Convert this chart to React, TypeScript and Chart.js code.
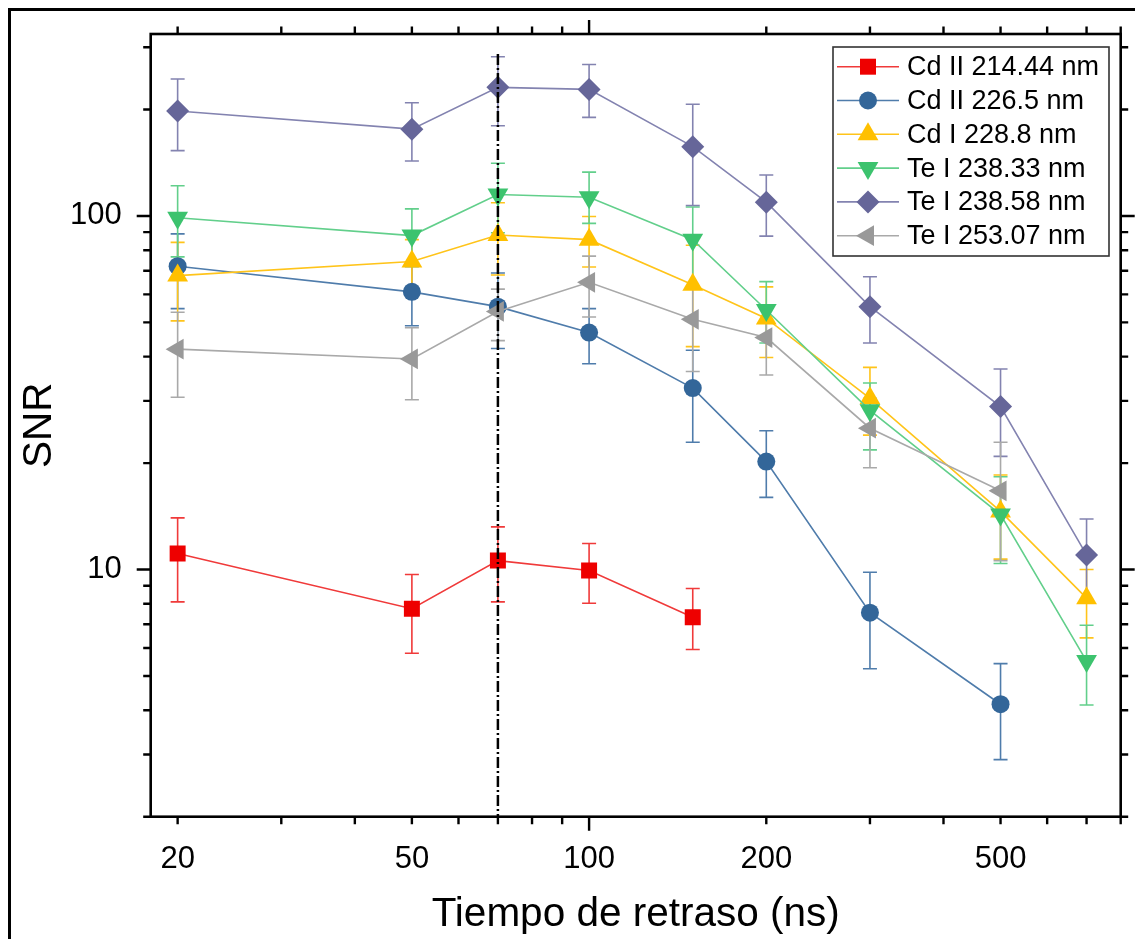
import React, { useEffect, useRef } from 'react';
import { Chart, registerables } from 'chart.js';

Chart.register(...registerables);

const FONT = '"Liberation Sans", Arial, Helvetica, sans-serif';

// Delay times (ns)
const delays = [20, 50, 70, 100, 150, 200, 300, 500, 700];

// Cd II 214.44 nm
const cdII214 = [11.1, 7.75, 10.6, 9.94, 7.33];
const cdII214Hi = [14.0, 9.68, 13.2, 11.85, 8.84];
const cdII214Lo = [8.1, 5.8, 8.1, 8.03, 5.94];

// Cd II 226.5 nm
const cdII226 = [72.1, 61.0, 55.4, 46.8, 32.6, 20.2, 7.55, 4.16];
const cdII226Hi = [89.0, 72.0, 69.0, 54.7, 41.7, 24.7, 9.83, 5.42];
const cdII226Lo = [54.7, 48.9, 42.2, 38.2, 22.9, 16.0, 5.24, 2.9];

// Cd I 228.8 nm
const cdI228 = [67.8, 74.3, 88.3, 85.7, 63.9, 51.3, 30.5, 14.6, 8.3];
const cdI228Hi = [84.2, 85.7, 109.0, 99.6, 82.6, 63.0, 37.3, 18.5, 10.0];
const cdI228Lo = [50.5, 61.3, 68.1, 71.7, 42.7, 39.8, 24.0, 10.7, 6.41];

// Te I 238.33 nm
const teI23833 = [98.8, 88.0, 115.0, 113.0, 85.7, 54.2, 28.2, 14.3, 5.51];
const teI23833Hi = [121.7, 104.7, 141.0, 133.0, 106.0, 65.2, 33.7, 18.3, 6.96];
const teI23833Lo = [76.6, 72.0, 89.6, 95.3, 62.5, 43.7, 21.8, 10.4, 4.14];

// Te I 238.58 nm
const teI23858 = [198, 176, 231, 228, 157, 109.4, 55.4, 28.9, 11.0];
const teI23858Hi = [244, 209, 282, 268, 207, 130.5, 67.3, 36.9, 13.9];
const teI23858Lo = [153, 143, 180, 190, 107, 87.7, 43.7, 20.9, 8.2];

// Te I 253.07 nm
const teI25307 = [42.0, 39.4, 53.7, 64.9, 51.0, 45.3, 25.1, 16.7];
const teI25307Hi = [53.4, 48.3, 62.1, 77.0, 63.0, 54.9, 30.5, 22.9];
const teI25307Lo = [30.7, 30.2, 44.4, 51.8, 36.3, 35.5, 19.4, 10.6];

const seriesLabels = [
  'Cd II 214.44 nm',
  'Cd II 226.5 nm',
  'Cd I 228.8 nm',
  'Te I 238.33 nm',
  'Te I 238.58 nm',
  'Te I 253.07 nm',
];
const seriesValues = [cdII214, cdII226, cdI228, teI23833, teI23858, teI25307];
const seriesHi = [cdII214Hi, cdII226Hi, cdI228Hi, teI23833Hi, teI23858Hi, teI25307Hi];
const seriesLo = [cdII214Lo, cdII226Lo, cdI228Lo, teI23833Lo, teI23858Lo, teI25307Lo];

// Axis ticks
const xMin = 18;
const xMax = 800;
const yMin = 2;
const yMax = 327;
const xTickValues = [20, 30, 40, 50, 60, 70, 80, 90, 100, 200, 300, 400, 500, 600, 700, 800];
const xMajorTicks = [100];
const xTickLabels = [20, 50, 100, 200, 500];
const yTickValues = [2, 3, 4, 5, 6, 7, 8, 9, 10, 20, 30, 40, 50, 60, 70, 80, 90, 100, 200, 300];
const yMajorTicks = [10, 100];
const yTickLabels = [10, 100];
const referenceDelay = 70;

// Styles
const markerColors = ['#EE0000', '#336699', '#FFC000', '#3CC36E', '#666699', '#999999'];
const lineColors = ['#F03A3A', '#4F7CAB', '#FFC41A', '#62CF8B', '#8383B0', '#A9A9A9'];
const pointStyles = ['rect', 'circle', 'triangle', 'triangle', 'rectRot', 'triangle'];
const pointRotations = [0, 0, 0, 180, 0, -90];
const pointRadii = [11.3, 9, 12, 12, 11.5, 12];

function drawMarker(ctx: CanvasRenderingContext2D, style: string, x: number, y: number, r: number, rotation: number) {
  let rad = (rotation * Math.PI) / 180;
  ctx.beginPath();
  if (style === 'circle') {
    ctx.arc(x, y, r, 0, Math.PI * 2);
  } else if (style === 'rect') {
    const s = Math.SQRT1_2 * r;
    ctx.rect(x - s, y - s, 2 * s, 2 * s);
  } else if (style === 'rectRot') {
    ctx.moveTo(x - r, y);
    ctx.lineTo(x, y - r);
    ctx.lineTo(x + r, y);
    ctx.lineTo(x, y + r);
  } else {
    ctx.moveTo(x + Math.sin(rad) * r, y - Math.cos(rad) * r);
    rad += (2 * Math.PI) / 3;
    ctx.lineTo(x + Math.sin(rad) * r, y - Math.cos(rad) * r);
    rad += (2 * Math.PI) / 3;
    ctx.lineTo(x + Math.sin(rad) * r, y - Math.cos(rad) * r);
  }
  ctx.closePath();
  ctx.fill();
}

const errorBarPlugin = {
  id: 'errorBars',
  beforeDatasetsDraw(chart: any) {
    const ctx = chart.ctx as CanvasRenderingContext2D;
    const xs = chart.scales.x;
    const ys = chart.scales.y;
    ctx.save();
    ctx.lineWidth = 1.6;
    for (let d = 0; d < seriesValues.length; d++) {
      ctx.strokeStyle = lineColors[d];
      const hi = seriesHi[d];
      const lo = seriesLo[d];
      for (let i = 0; i < seriesValues[d].length; i++) {
        const px = xs.getPixelForValue(delays[i]);
        const pHi = ys.getPixelForValue(hi[i]);
        const pLo = ys.getPixelForValue(lo[i]);
        ctx.beginPath();
        ctx.moveTo(px, pHi);
        ctx.lineTo(px, pLo);
        ctx.moveTo(px - 7, pHi);
        ctx.lineTo(px + 7, pHi);
        ctx.moveTo(px - 7, pLo);
        ctx.lineTo(px + 7, pLo);
        ctx.stroke();
      }
    }
    ctx.restore();
  },
};

const decorPlugin = {
  id: 'decor',
  afterDatasetsDraw(chart: any) {
    const ctx = chart.ctx as CanvasRenderingContext2D;
    const { left, right, top, bottom } = chart.chartArea;
    const xs = chart.scales.x;
    const ys = chart.scales.y;
    ctx.save();

    // dash-dot reference line
    const rx = xs.getPixelForValue(referenceDelay);
    ctx.strokeStyle = '#000';
    ctx.lineWidth = 2.5;
    ctx.setLineDash([11, 3, 2, 3]);
    ctx.beginPath();
    ctx.moveTo(rx, top + 20);
    ctx.lineTo(rx, bottom);
    ctx.stroke();
    ctx.setLineDash([]);

    // axes frame
    ctx.lineWidth = 2.6;
    ctx.strokeStyle = '#000';
    ctx.strokeRect(left, top, right - left, bottom - top);

    // ticks (outward on all sides)
    ctx.lineWidth = 2.4;
    ctx.beginPath();
    for (const v of xTickValues) {
      const p = xs.getPixelForValue(v);
      const len = xMajorTicks.includes(v) ? 14 : 7.5;
      ctx.moveTo(p, bottom);
      ctx.lineTo(p, bottom + len);
      ctx.moveTo(p, top);
      ctx.lineTo(p, top - len);
    }
    for (const v of yTickValues) {
      const p = ys.getPixelForValue(v);
      const len = yMajorTicks.includes(v) ? 14 : 7.5;
      ctx.moveTo(left, p);
      ctx.lineTo(left - len, p);
      ctx.moveTo(right, p);
      ctx.lineTo(right + len, p);
    }
    ctx.stroke();

    // legend
    const boxL = 822;
    const boxT = 36;
    const boxW = 276;
    const boxH = 209;
    ctx.fillStyle = '#fff';
    ctx.fillRect(boxL, boxT, boxW, boxH);
    ctx.strokeStyle = '#333';
    ctx.lineWidth = 1.6;
    ctx.strokeRect(boxL, boxT, boxW, boxH);
    ctx.font = `27px ${FONT}`;
    ctx.textBaseline = 'middle';
    ctx.textAlign = 'left';
    for (let i = 0; i < seriesLabels.length; i++) {
      const cy = boxT + 19.7 + i * 33.8;
      ctx.strokeStyle = lineColors[i];
      ctx.lineWidth = 1.6;
      ctx.beginPath();
      ctx.moveTo(boxL + 4, cy);
      ctx.lineTo(boxL + 66, cy);
      ctx.stroke();
      ctx.fillStyle = markerColors[i];
      drawMarker(ctx, pointStyles[i], boxL + 35, cy, pointRadii[i], pointRotations[i]);
      ctx.fillStyle = '#000';
      ctx.fillText(seriesLabels[i], boxL + 74, cy + 1);
    }
    ctx.restore();
  },
};

function zeroPadding(axis: any) {
  axis.paddingTop = 0;
  axis.paddingBottom = 0;
  axis.paddingLeft = 0;
  axis.paddingRight = 0;
}

export default function App() {
  const canvasRef = useRef<HTMLCanvasElement | null>(null);

  useEffect(() => {
    const canvas = canvasRef.current;
    if (!canvas) return;
    const datasets = seriesValues.map((vals, d) => ({
      label: seriesLabels[d],
      data: vals.map((v, i) => ({ x: delays[i], y: v })),
      borderColor: lineColors[d],
      backgroundColor: markerColors[d],
      borderWidth: 1.6,
      pointStyle: pointStyles[d] as any,
      pointRotation: pointRotations[d],
      pointRadius: pointRadii[d],
      pointBackgroundColor: markerColors[d],
      pointBorderColor: markerColors[d],
      pointBorderWidth: 0,
      pointHoverRadius: pointRadii[d],
      order: seriesValues.length - d,
      tension: 0,
      fill: false,
    }));

    const chart = new Chart(canvas, {
      type: 'line',
      data: { datasets },
      options: {
        animation: false,
        responsive: false,
        devicePixelRatio: 1,
        events: [],
        layout: { padding: { left: 0, right: 14.3, top: 23, bottom: 0 } },
        plugins: {
          legend: { display: false },
          tooltip: { enabled: false },
        },
        scales: {
          x: {
            type: 'logarithmic',
            min: xMin,
            max: xMax,
            afterBuildTicks: (axis: any) => {
              axis.ticks = xTickValues.map((v) => ({ value: v }));
            },
            afterFit: (axis: any) => {
              axis.height = 122.3;
              zeroPadding(axis);
            },
            grid: { display: false, drawTicks: false },
            border: { display: false },
            ticks: {
              autoSkip: false,
              maxRotation: 0,
              padding: 24,
              color: '#000',
              font: { family: FONT, size: 31 },
              callback: (v: any) => (xTickLabels.includes(Number(v)) ? String(v) : ''),
            },
            title: {
              display: true,
              text: 'Tiempo de retraso (ns)',
              color: '#000',
              font: { family: FONT, size: 40.5 },
              padding: { top: 0, bottom: 0 },
            },
          },
          y: {
            type: 'logarithmic',
            min: yMin,
            max: yMax,
            afterBuildTicks: (axis: any) => {
              axis.ticks = yTickValues.map((v) => ({ value: v }));
            },
            afterFit: (axis: any) => {
              axis.width = 139.7;
              zeroPadding(axis);
            },
            grid: { display: false, drawTicks: false },
            border: { display: false },
            ticks: {
              autoSkip: false,
              padding: 29,
              color: '#000',
              font: { family: FONT, size: 31 },
              callback: (v: any) => (yTickLabels.includes(Number(v)) ? String(v) : ''),
            },
            title: {
              display: true,
              text: 'SNR',
              color: '#000',
              font: { family: FONT, size: 40.5 },
              padding: { top: 5, bottom: 0 },
            },
          },
        },
      },
      plugins: [errorBarPlugin, decorPlugin],
    });

    return () => {
      chart.destroy();
    };
  }, []);

  return (
    <div
      style={{
        width: 1124,
        height: 928,
        borderLeft: '3px solid #000',
        borderTop: '3px solid #000',
        overflow: 'hidden',
        background: '#fff',
      }}
    >
      <canvas ref={canvasRef} width={1124} height={928} style={{ display: 'block' }} />
    </div>
  );
}
